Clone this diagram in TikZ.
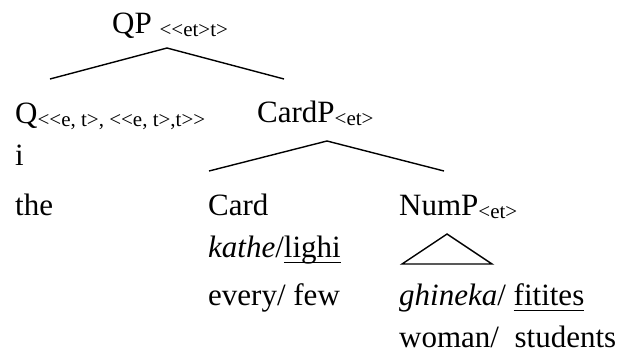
\documentclass[tikz,border=0pt]{standalone}
\usepackage{fontspec}
\setmainfont{Liberation Serif}
\usetikzlibrary{positioning}

\newcommand{\tyo}{\textless\kern0pt}
\newcommand{\tyc}{\kern0pt\textgreater\kern0pt}
\newcommand{\typ}[1]{\raisebox{-3pt}{\fontsize{21}{25}\selectfont #1}}
\newcommand{\ulword}[1]{\setbox0\hbox{#1}\rlap{\rule[-6.3pt]{\wd0}{1.5pt}}\box0}

\begin{document}
\begin{tikzpicture}[x=1pt, y=-1pt,
        word/.style={anchor=base west, inner sep=0pt, font=\fontsize{31}{37}\selectfont},
        branch/.style={line width=1.4pt}
    ]
        \useasboundingbox (0,0) rectangle (624,354);

        % root
        \node[word] (qp) at (112,33) {QP \typ{\tyo\tyo et\tyc t\tyc}};
        \coordinate (qp-foot) at (167,48);

        % determiner
        \node[word] (q) at (15,123) {Q\typ{\tyo\tyo e, t\tyc, \tyo\tyo e, t\tyc,t\tyc\tyc}};
        \node[word] (qgr) at (15,165) {i};
        \node[word] (qgl) at (15,215) {the};
        \coordinate (q-head) at (50,79);

        % cardinal phrase
        \node[word] (cardp) at (257,122) {CardP\typ{\tyo et\tyc}};
        \coordinate (cardp-head) at (284,79);
        \coordinate (cardp-foot) at (327,141);

        \node[word] (card) at (208,215) {Card};
        \node[word] (cardgr) at (208,257) {\textit{kathe}/\ulword{lighi}};
        \node[word] (cardgl) at (208,305) {every/ few};
        \coordinate (card-head) at (209,171);

        \node[word] (nump) at (399,215) {NumP\typ{\tyo et\tyc}};
        \node[word] (numgr) at (399,305) {\textit{ghineka}/ \ulword{fitites}};
        \node[word] (numgl) at (399,347) {woman/\ \ students};
        \coordinate (nump-head) at (444,171);
        \coordinate (tri-top) at (447,234);
        \coordinate (tri-l) at (402,264);
        \coordinate (tri-r) at (492,264);

        \draw[branch] (q-head) -- (qp-foot) -- (cardp-head);
        \draw[branch] (card-head) -- (cardp-foot) -- (nump-head);
        \draw[branch, line join=miter] (tri-top) -- (tri-l) -- (tri-r) -- cycle;
    \end{tikzpicture}
\end{document}
